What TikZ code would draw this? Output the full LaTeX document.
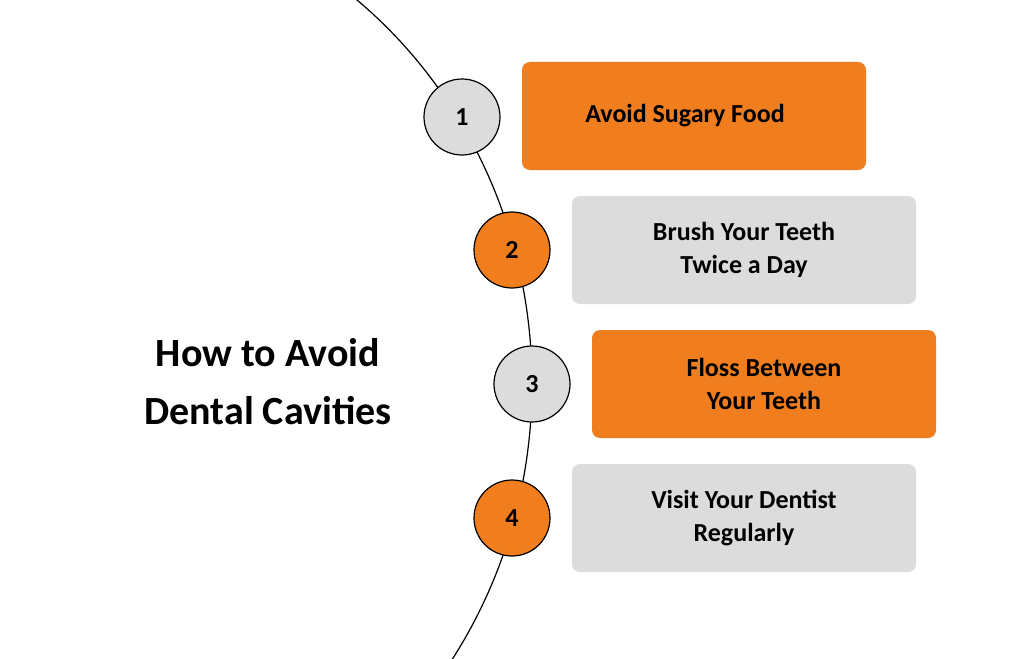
\documentclass[tikz,border=0pt]{standalone}
\usepackage{fontspec}
\setmainfont{Carlito}
\definecolor{org}{HTML}{F07D1E}
\definecolor{gry}{HTML}{DCDCDC}
\begin{document}
\begin{tikzpicture}[x=1pt,y=-1pt,
  num/.style={circle,draw=black,line width=1.2pt,minimum size=76pt,inner sep=0pt,font=\fontsize{26}{28}\selectfont\bfseries},
  box/.style={rounded corners=8pt,minimum width=344pt,minimum height=108pt,align=center,font=\fontsize{26}{33}\selectfont\bfseries},
  ob/.style={box,fill=org}, gb/.style={box,fill=gry}]
\useasboundingbox (0,0) rectangle (1024,658);
\begin{scope}
\clip (0,0) rectangle (1024,658);
\draw[line width=1.2pt] (70,384) ellipse [x radius=462, y radius=490];
\end{scope}
\node[num,fill=gry] (c1) at (462,117) {1};
\node[num,fill=org] (c2) at (512,250) {2};
\node[num,fill=gry] (c3) at (532,384) {3};
\node[num,fill=org] (c4) at (512,518) {4};
\node[ob] (b1) at (694,116) {\hspace*{-18pt}Avoid Sugary Food};
\node[gb] (b2) at (744,250) {Brush Your Teeth\\Twice a Day};
\node[ob] (b3) at (764,384) {Floss Between\\Your Teeth};
\node[gb] (b4) at (744,518) {Visit Your Dentist\\Regularly};
\node[align=center,font=\fontsize{40}{58}\selectfont\bfseries] (t) at (268,382) {How to Avoid\\Dental Cavities};
\end{tikzpicture}
\end{document}
